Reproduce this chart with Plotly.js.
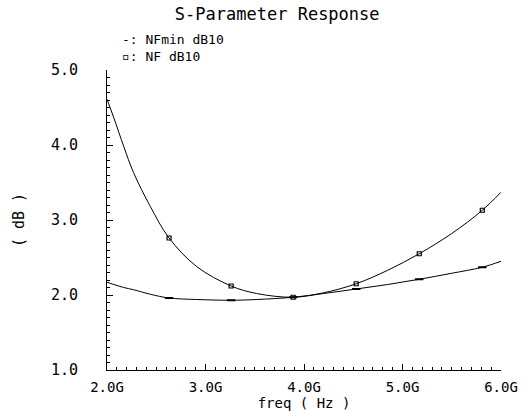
<!DOCTYPE html>
<html>
<head>
<meta charset="utf-8">
<script src="https://cdn.plot.ly/plotly-3.0.1.min.js"></script>
<style>html,body{margin:0;padding:0;background:#fff;}#chart{width:527px;height:413px;}</style>
</head>
<body>
<div id="chart"></div>
<script>
// Frequency (GHz) sample points
const freqGHz = [2.0, 2.07, 2.17, 2.27, 2.44, 2.63, 2.91, 3.26, 3.52, 3.89, 4.2, 4.53, 4.85, 5.17, 5.5, 5.81, 6.0];
// NF dB10 values
const nfDb = [4.61, 4.36, 3.98, 3.63, 3.18, 2.76, 2.38, 2.12, 2.02, 1.97, 2.03, 2.15, 2.33, 2.55, 2.82, 3.13, 3.37];
// NFmin dB10 values
const nfminDb = [2.17, 2.14, 2.10, 2.07, 2.01, 1.96, 1.94, 1.93, 1.94, 1.97, 2.02, 2.08, 2.14, 2.21, 2.29, 2.37, 2.45];
// indices of the sample points that carry a marker
const markerIdx = [5, 7, 9, 11, 13, 15];
// tick labels
const xTickVals = [2, 3, 4, 5, 6];
const xTickText = ["2.0G", "3.0G", "4.0G", "5.0G", "6.0G"];
const yTickVals = [1, 2, 3, 4, 5];
const yTickText = ["1.0", "2.0", "3.0", "4.0", "5.0"];

const FONT = "DejaVu Sans Mono";
const pick = (arr) => markerIdx.map(i => arr[i]);

const traces = [
  {x: freqGHz, y: nfDb, mode: "lines", line: {color: "#000", width: 1, shape: "spline", smoothing: 1}, hoverinfo: "skip"},
  {x: freqGHz, y: nfminDb, mode: "lines", line: {color: "#000", width: 1, shape: "spline", smoothing: 1}, hoverinfo: "skip"},
  {x: pick(freqGHz), y: pick(nfDb), mode: "markers", marker: {symbol: "square-open", size: 4, color: "#000", line: {color: "#000", width: 1.2}}},
  {x: pick(freqGHz), y: pick(nfminDb), mode: "markers", marker: {symbol: "line-ew", size: 6, color: "#000", line: {color: "#000", width: 2}}}
];

const layout = {
  width: 527, height: 413,
  margin: {l: 107, r: 26, t: 70, b: 43, pad: 0},
  paper_bgcolor: "#fff", plot_bgcolor: "#fff",
  showlegend: false,
  font: {family: FONT, size: 14, color: "#000"},
  title: {text: "S-Parameter Response", font: {family: FONT, size: 17, color: "#000"}, x: 0.526, xref: "container", xanchor: "center", y: 0.966, yref: "container", yanchor: "middle"},
  xaxis: {
    range: [2, 6], showgrid: false, zeroline: false,
    showline: true, linecolor: "#000", linewidth: 1,
    ticks: "inside", ticklen: 6, tickcolor: "#000", tickwidth: 1,
    tickvals: xTickVals, ticktext: xTickText,
    minor: {dtick: 0.1, ticks: "inside", ticklen: 3, tickcolor: "#000", tickwidth: 1},
    tickfont: {family: FONT, size: 14},
    ticklabelstandoff: 4,
    title: {text: "freq ( Hz )", font: {family: FONT, size: 14}, standoff: 3}
  },
  yaxis: {
    range: [1, 5], showgrid: false, zeroline: false,
    showline: true, linecolor: "#000", linewidth: 1,
    ticks: "inside", ticklen: 6, tickcolor: "#000", tickwidth: 1,
    tickvals: yTickVals, ticktext: yTickText,
    minor: {dtick: 0.1, ticks: "inside", ticklen: 3, tickcolor: "#000", tickwidth: 1},
    tickfont: {family: FONT, size: 15},
    ticklabelstandoff: 25,
    title: {text: "( dB )", font: {family: FONT, size: 15}, standoff: 22}
  },
  annotations: [
    {xref: "paper", yref: "paper", x: 0.033, y: 1.1, xanchor: "left", yanchor: "middle", showarrow: false, text: "-: NFmin dB10", font: {family: FONT, size: 13}},
    {xref: "paper", yref: "paper", x: 0.033, y: 1.045, xanchor: "left", yanchor: "middle", showarrow: false, text: "▫: NF dB10", font: {family: FONT, size: 13}}
  ]
};

Plotly.newPlot("chart", traces, layout, {staticPlot: true, displayModeBar: false});
</script>
</body>
</html>
